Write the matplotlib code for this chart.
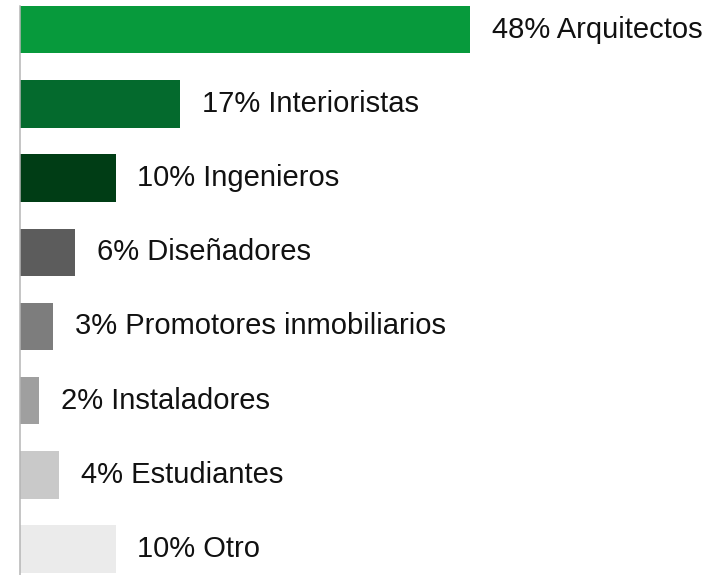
import matplotlib.pyplot as plt

# Values; labels carry the rounded percentages
categories = [
    "Arquitectos",
    "Interioristas",
    "Ingenieros",
    "Diseñadores",
    "Promotores inmobiliarios",
    "Instaladores",
    "Estudiantes",
    "Otro",
]
bar_values = [48.0, 17.1, 10.2, 5.9, 3.55, 2.06, 4.2, 10.2]
percent_labels = ["48%", "17%", "10%", "6%", "3%", "2%", "4%", "10%"]
colors = [
    "#079a3c",
    "#046a2d",
    "#003d15",
    "#5c5c5c",
    "#7d7d7d",
    "#9f9f9f",
    "#c9c9c9",
    "#ebebeb",
]

plt.rcParams["font.family"] = ["Liberation Sans", "DejaVu Sans"]

fig = plt.figure(figsize=(7.11, 5.75), dpi=100)
ax = fig.add_axes([20 / 711, 0, 691 / 711, 569 / 575])

positions = list(range(len(categories)))
ax.barh(positions, bar_values, height=0.64, color=colors, left=0)

# Labels to the right of each bar
for pos, val, pct, cat in zip(positions, bar_values, percent_labels, categories):
    ax.annotate(
        f"{pct} {cat}",
        xy=(val, pos),
        xytext=(15.5, 0),
        textcoords="offset points",
        va="center",
        ha="left",
        fontsize=21,
        color="#111111",
    )

ax.set_xlim(0, 691 / 9.375)
ax.set_ylim(7.35, -0.32)

for side in ["top", "right", "bottom"]:
    ax.spines[side].set_visible(False)
ax.spines["left"].set_color("#b5b5b5")
ax.spines["left"].set_linewidth(1.1)
ax.set_xticks([])
ax.set_yticks([])

fig.savefig("out.png", dpi=100)
